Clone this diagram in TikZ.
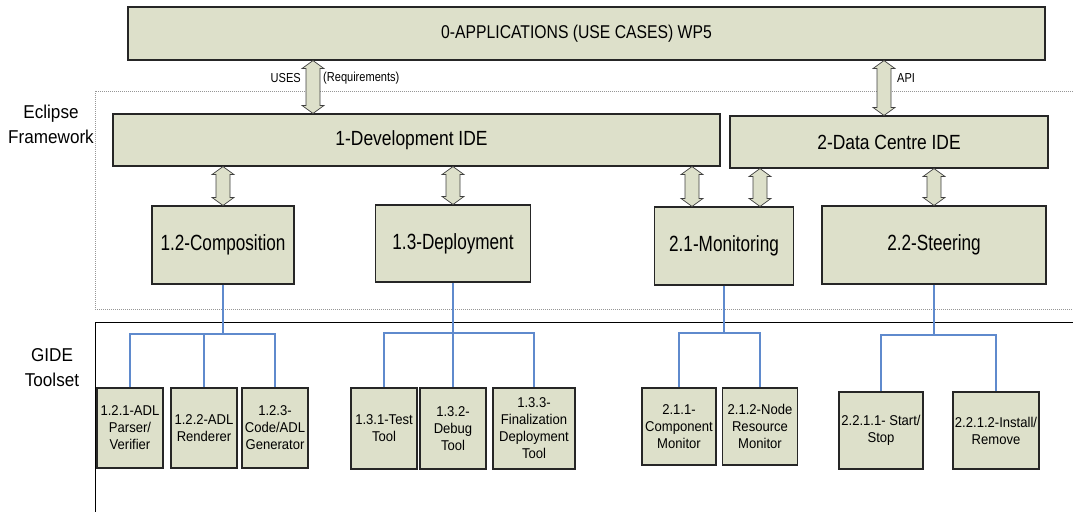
\documentclass[tikz,border=0pt]{standalone}
\usepackage{fontspec}
\setmainfont{Liberation Sans}
\newfontfamily\midfont{Liberation Sans}[FakeStretch=0.85]
\newfontfamily\bigfont{Liberation Sans}[FakeStretch=0.78]
\newfontfamily\leaffont{Liberation Sans}[FakeStretch=0.92]
\usetikzlibrary{calc}
\definecolor{boxfill}{RGB}{221,224,202}
\definecolor{treeblue}{RGB}{95,138,205}
\definecolor{frameline}{RGB}{150,150,150}

% double-headed block arrow from point #1 (top) to point #2 (bottom)
\newcommand\blockarrow[2]{%
  \path[arrowbody] let \p1=(#1), \p2=(#2) in
    (\x1,\y1) -- (\x1+11pt,\y1-8pt) -- (\x1+7pt,\y1-8pt) -- (\x1+7pt,\y2+8pt)
    -- (\x1+11pt,\y2+8pt) -- (\x1,\y2) -- (\x1-11pt,\y2+8pt) -- (\x1-7pt,\y2+8pt)
    -- (\x1-7pt,\y1-8pt) -- (\x1-11pt,\y1-8pt) -- cycle;}

\begin{document}
\begin{tikzpicture}[x=1pt,y=-1pt,
  box/.style={draw=black!85, fill=boxfill, line width=1.1pt, inner sep=1pt, align=center},
  wide/.style={box, font=\midfont\fontsize{18.5}{22}\selectfont},
  ide/.style={box, font=\midfont\fontsize{20.5}{24}\selectfont},
  main/.style={box, font=\bigfont\fontsize{22}{26}\selectfont},
  leaf/.style={box, font=\leaffont\fontsize{14.2}{17}\selectfont},
  lbl/.style={inner sep=0pt, font=\midfont\fontsize{13}{15}\selectfont},
  side/.style={inner sep=0pt, align=center, font=\leaffont\fontsize{18.6}{25}\selectfont},
  arrowbody/.style={draw=black!75, fill=boxfill, line width=0.7pt, line join=miter},
  tree/.style={draw=treeblue, line width=1.2pt},
  frame/.style={draw=frameline, line width=0.6pt, dash pattern=on 1pt off 1pt}]
\useasboundingbox (0,0) rectangle (1073,512);

% layer frames
\draw[frame] (1073,91) -- (95,91) -- (95,309) -- (1073,309);
\draw[black, line width=0.9pt] (1073,322) -- (95,322) -- (95,512);
\node[side, anchor=base] (ecl) at (51,118) {Eclipse};
\node[side, anchor=base] (fw) at (51,143) {Framework};
\node[side, anchor=base] (gide) at (52,361) {GIDE};
\node[side, anchor=base] (tools) at (52,386) {Toolset};

% applications and IDEs
\node[wide, minimum width=917pt, minimum height=53pt] (top) at (586.5,33.5) {0-APPLICATIONS (USE CASES) WP5\hspace*{20pt}};
\node[ide, minimum width=607pt, minimum height=52pt] (dev) at (416.5,140) {1-Development IDE\hspace*{10pt}};
\node[ide, minimum width=318pt, minimum height=52pt] (dc) at (889,142) {2-Data Centre IDE};

% components
\node[main, minimum width=142pt, minimum height=78pt] (comp) at (223,245) {1.2-Composition};
\node[main, minimum width=155pt, minimum height=77pt] (depl) at (453,243.5) {1.3-Deployment};
\node[main, minimum width=139pt, minimum height=78pt] (mon) at (724,246) {2.1-Monitoring};
\node[main, minimum width=224pt, minimum height=78pt] (steer) at (934,245) {2.2-Steering};

% tools
\node[leaf, minimum width=66pt, minimum height=80pt] (l121) at (130,428) {1.2.1-ADL\\Parser/\\Verifier};
\node[leaf, minimum width=66pt, minimum height=80pt] (l122) at (204,428) {1.2.2-ADL\\Renderer};
\node[leaf, minimum width=66pt, minimum height=80pt] (l123) at (275,428) {1.2.3-\\Code/ADL\\Generator};
\node[leaf, minimum width=66pt, minimum height=81pt] (l131) at (384,428.5) {1.3.1-Test\\Tool};
\node[leaf, minimum width=66pt, minimum height=81pt] (l132) at (453,428.5) {1.3.2-\\Debug\\Tool};
\node[leaf, minimum width=82pt, minimum height=81pt] (l133) at (534,428.5) {1.3.3-\\Finalization\\Deployment\\Tool};
\node[leaf, minimum width=74pt, minimum height=77pt] (l211) at (679,426.5) {2.1.1-\\Component\\Monitor};
\node[leaf, minimum width=75pt, minimum height=77pt] (l212) at (760,426.5) {2.1.2-Node\\Resource\\Monitor};
\node[leaf, minimum width=84pt, minimum height=77pt] (l221) at (881,430.5) {2.2.1.1- Start/\\Stop};
\node[leaf, minimum width=86pt, minimum height=77pt] (l222) at (996,430.5) {2.2.1.2-Install/\\Remove};

% interface arrows
\blockarrow{313,0 |- top.south}{313,0 |- dev.north}
\blockarrow{884,0 |- top.south}{884,0 |- dc.north}
\node[lbl, anchor=east] (uses) at (301,78) {USES};
\node[lbl, anchor=west] (req) at (323,78) {(Requirements)};
\node[lbl, anchor=west] (api) at (897,78) {API};

\coordinate (m1) at ([xshift=-32pt]mon.north);
\coordinate (m2) at ([xshift=36pt]mon.north);
\blockarrow{comp.north |- dev.south}{comp.north}
\blockarrow{depl.north |- dev.south}{depl.north}
\blockarrow{m1 |- dev.south}{m1}
\blockarrow{m2 |- dc.south}{m2}
\blockarrow{steer.north |- dc.south}{steer.north}

% tool trees
\coordinate (cj) at (comp.south |- 0,334);
\draw[tree] (comp.south) -- (cj);
\draw[tree] (l121.north) |- (cj) -| (l123.north);
\draw[tree] (l122.north) -- (l122.north |- cj);

\coordinate (dj) at (depl.south |- 0,333);
\draw[tree] (depl.south) -- (l132.north);
\draw[tree] (l131.north) |- (dj) -| (l133.north);

\coordinate (mj) at (mon.south |- 0,333);
\draw[tree] (mon.south) -- (mj);
\draw[tree] (l211.north) |- (mj) -| (l212.north);

\coordinate (sj) at (steer.south |- 0,335);
\draw[tree] (steer.south) -- (sj);
\draw[tree] (l221.north) |- (sj) -| (l222.north);
\end{tikzpicture}
\end{document}
